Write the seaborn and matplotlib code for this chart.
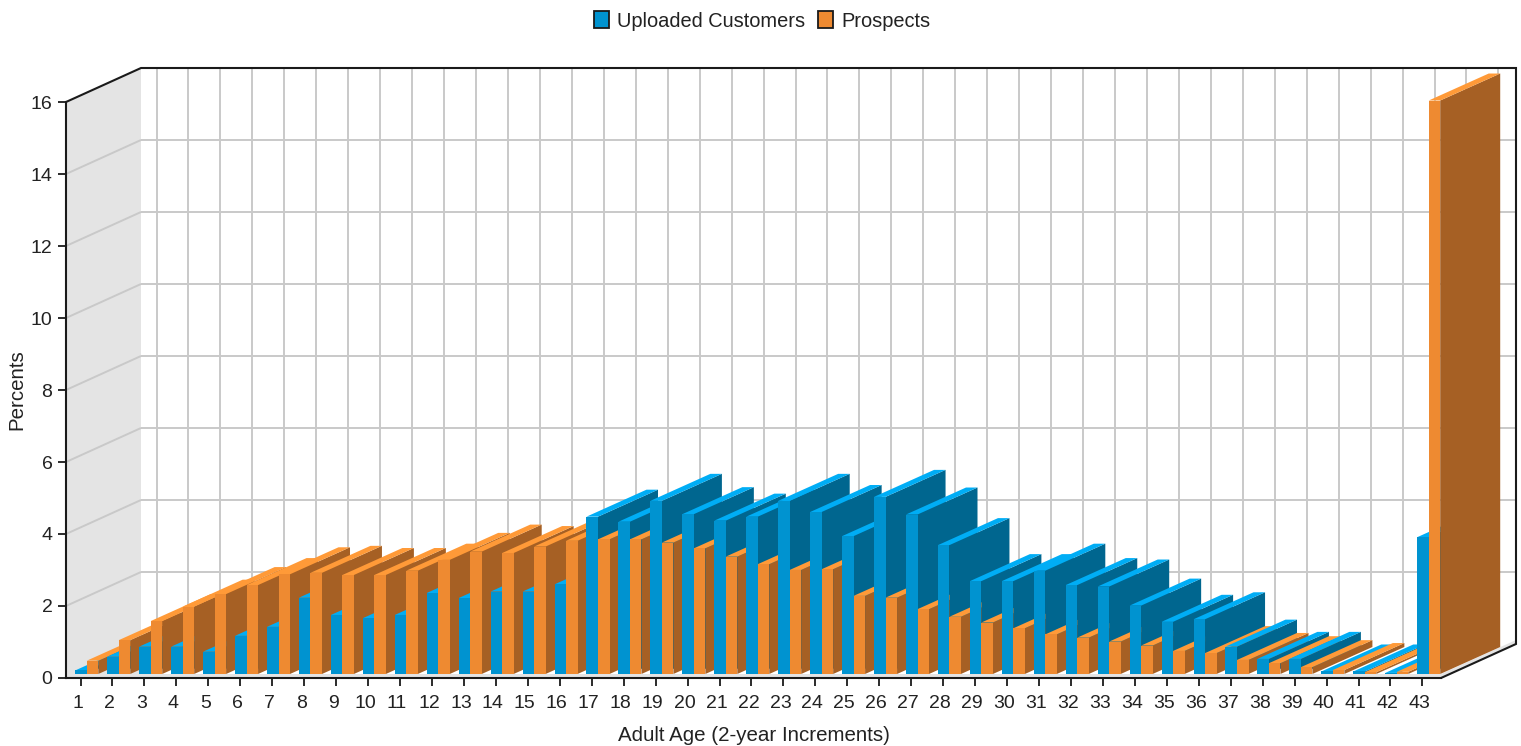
import matplotlib
matplotlib.use("Agg")
import matplotlib.pyplot as plt
from matplotlib.patches import Patch, Polygon
from matplotlib.transforms import Affine2D
import pandas as pd
import seaborn as sns

age_bands = [str(n) for n in range(1, 44)]
customers = [0.10, 0.48, 0.76, 0.76, 0.62, 1.06, 1.31, 2.12, 1.64, 1.55, 1.64,
             2.25, 2.11, 2.29, 2.29, 2.49, 4.37, 4.23, 4.81, 4.44, 4.26, 4.37,
             4.81, 4.50, 3.83, 4.92, 4.43, 3.58, 2.58, 2.58, 2.87, 2.47, 2.43,
             1.90, 1.45, 1.52, 0.76, 0.42, 0.42, 0.07, 0.07, 0.03, 3.80]
prospects = [0.37, 0.94, 1.47, 1.87, 2.22, 2.47, 2.77, 2.81, 2.75, 2.75, 2.87,
             3.17, 3.40, 3.36, 3.54, 3.70, 3.74, 3.74, 3.65, 3.49, 3.26, 3.05,
             2.89, 2.91, 2.17, 2.12, 1.80, 1.59, 1.43, 1.27, 1.10, 1.01, 0.90,
             0.79, 0.64, 0.58, 0.39, 0.30, 0.19, 0.11, 0.05, 0.06, 15.93]
series_names = ["Uploaded Customers", "Prospects"]
front_colors = ["#0093D0", "#EE8A31"]
top_colors = ["#00ADF5", "#FF9A38"]
side_colors = ["#00668F", "#A66024"]

table = pd.DataFrame({
    "age": age_bands * 2,
    "percent": customers + prospects,
    "series": [series_names[0]] * 43 + [series_names[1]] * 43,
})

W, H = 1521, 746
sns.set_style("white")
plt.rcParams["font.family"] = ["Liberation Sans", "DejaVu Sans"]
FONT = 14
TEXT = "#222222"

fig = plt.figure(figsize=(W / 100, H / 100), dpi=100, facecolor="white")
# Front plane of the pseudo-3D box, given in pixels from the top-left corner
LEFT, RIGHT, BASE, TOP = 66, 1441, 678, 102
ax = fig.add_axes([LEFT / W, 1 - BASE / H, (RIGHT - LEFT) / W, (BASE - TOP) / H])

sns.barplot(data=table, x="age", y="percent", hue="series", order=age_bands,
            hue_order=series_names, palette=front_colors, saturation=1,
            width=0.72, gap=0, linewidth=0, legend=False, ax=ax)

# Pixel scale of the axes
STEP_X, STEP_Y = 31.95, 36.0
FIRST_TICK = 80.5
ax.set_xlim((LEFT - FIRST_TICK) / STEP_X, (RIGHT - FIRST_TICK) / STEP_X)
ax.set_ylim(0, 16)
x_min, x_max = ax.get_xlim()

# Box depth, bar depth and the inset of the bars from the front plane, in data units
BOX_DX, BOX_DY = 75 / STEP_X, 34 / STEP_Y
BAR_DX, BAR_DY = 60 / STEP_X, 27 / STEP_Y
INSET_X, INSET_Y = 6.3 / STEP_X, 4 / STEP_Y
GRID_DX = 76 / STEP_X

WALL = "#E4E4E4"
GRID = "#C9C9C9"
GRID_LW = 1.4
EDGE_LW = 1.5

# Left wall and floor strip
ax.add_patch(Polygon([(x_min, INSET_Y), (x_min, 16), (x_min + BOX_DX, 16 + BOX_DY),
                      (x_min + BOX_DX, INSET_Y)],
                     fc=WALL, ec="none", zorder=0.5, clip_on=False))
ax.add_patch(Polygon([(x_min, 0), (x_max, 0), (x_max + BOX_DX, BOX_DY),
                      (x_max + BOX_DX, BOX_DY + INSET_Y), (x_max, INSET_Y), (x_min, INSET_Y)],
                     fc=WALL, ec="none", zorder=0.5, clip_on=False))

# Grid on the back and left walls
for level in range(2, 16, 2):
    ax.plot([x_min + BOX_DX, x_max + BOX_DX], [level + BOX_DY] * 2, color=GRID,
            lw=GRID_LW, zorder=1, clip_on=False, solid_capstyle="butt")
    ax.plot([x_min, x_min + BOX_DX], [level, level + BOX_DY], color=GRID,
            lw=GRID_LW, zorder=1, clip_on=False, solid_capstyle="butt")
for pos in range(len(age_bands)):
    ax.plot([pos + GRID_DX] * 2, [BOX_DY, 16 + BOX_DY], color=GRID, lw=GRID_LW,
            zorder=1, clip_on=False, solid_capstyle="butt")

# Extrude each bar; painting runs left to right, customers before prospects
for s, container in enumerate(ax.containers):
    for c, bar in enumerate(container.patches):
        x0 = bar.get_x() + INSET_X
        x1 = x0 + bar.get_width()
        h = bar.get_height()
        order = 3 + (c * 2 + s) * 0.01
        ax.add_patch(Polygon([(x1, INSET_Y), (x1, h + INSET_Y),
                              (x1 + BAR_DX, h + INSET_Y + BAR_DY),
                              (x1 + BAR_DX, INSET_Y + BAR_DY)],
                             fc=side_colors[s], ec="none", zorder=order, clip_on=False))
        ax.add_patch(Polygon([(x0, h + INSET_Y), (x1, h + INSET_Y),
                              (x1 + BAR_DX, h + INSET_Y + BAR_DY),
                              (x0 + BAR_DX, h + INSET_Y + BAR_DY)],
                             fc=top_colors[s], ec="none", zorder=order + 0.001, clip_on=False))
        bar.set_xy((x0, INSET_Y))
        bar.set_zorder(order + 0.002)
        bar.set_clip_on(False)

# Outline of the box
ax.plot([x_min, x_min + BOX_DX, x_max + BOX_DX, x_max + BOX_DX, x_max],
        [16, 16 + BOX_DY, 16 + BOX_DY, BOX_DY, 0],
        color="#1A1A1A", lw=EDGE_LW, zorder=8, clip_on=False, solid_joinstyle="miter")

for side in ("top", "right"):
    ax.spines[side].set_visible(False)
for side in ("left", "bottom"):
    ax.spines[side].set_linewidth(EDGE_LW)
    ax.spines[side].set_color("#1A1A1A")
    ax.spines[side].set_zorder(9)

ax.set_yticks(range(0, 17, 2))
ax.tick_params(axis="both", which="major", direction="out", length=5.5, width=1.3,
               color="#1A1A1A", labelsize=FONT, labelcolor=TEXT, bottom=True, left=True)
ax.tick_params(axis="x", pad=6.5)
ax.tick_params(axis="y", pad=4.3)
for label in ax.get_xticklabels():
    label.set_transform(label.get_transform() + Affine2D().translate(-3, 0))

ax.set_xlabel("Adult Age (2-year Increments)", fontsize=14.8, color=TEXT)
ax.set_ylabel("Percents", fontsize=14.8, color=TEXT)
ax.xaxis.set_label_coords(0.5, -48 / (BASE - TOP))
ax.yaxis.set_label_coords(-(LEFT - 26) / (RIGHT - LEFT), 0.5)

handles = [Patch(facecolor=front_colors[i], edgecolor="#1A1A1A", linewidth=1.3,
                 label=series_names[i]) for i in range(2)]
fig.legend(handles=handles, loc="center", bbox_to_anchor=(762 / W, 1 - 21 / H), ncol=2,
           frameon=False, fontsize=14.4, handlelength=0.75, handleheight=0.9,
           handletextpad=0.4, columnspacing=0.65, borderpad=0, labelcolor=TEXT)

fig.savefig("out.png", dpi=100, facecolor="white")
